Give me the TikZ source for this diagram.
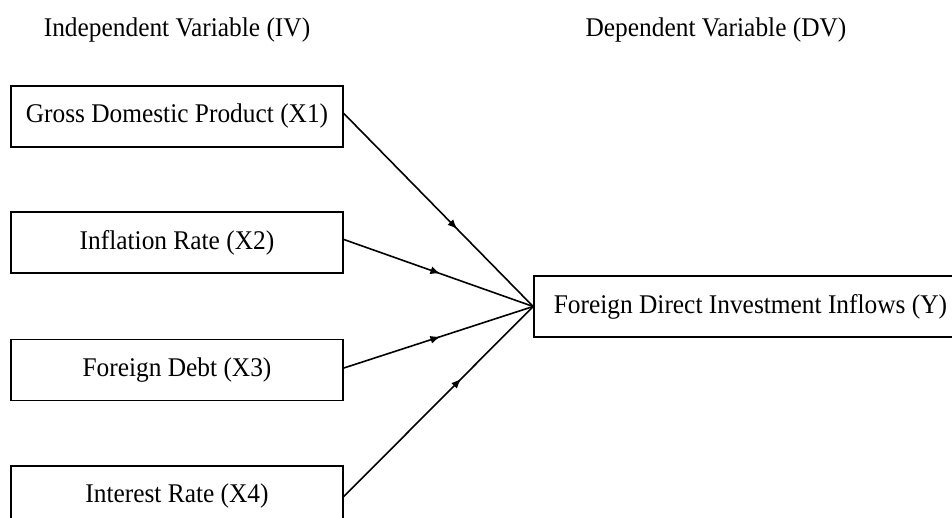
\documentclass[tikz,border=0pt]{standalone}
\usepackage{fontspec}
\setmainfont{Liberation Serif}[FakeStretch=0.94]
\usetikzlibrary{decorations.markings,arrows.meta}
\begin{document}
\begin{tikzpicture}[x=1pt,y=-1pt,
  every node/.style={font=\fontsize{27}{32}\selectfont},
  varbox/.style={draw, line width=1.7pt, minimum width=332pt, minimum height=61pt, inner sep=0pt},
  ybox/.style={draw, line width=1.7pt, minimum width=433pt, minimum height=61pt, inner sep=0pt},
  title/.style={inner sep=0pt},
  link/.style={line width=1.6pt, postaction={decorate},
    decoration={markings, mark=at position #1 with {\arrow{Latex[length=10pt,width=8pt]}}}}
]
\useasboundingbox (0,0) rectangle (952,518);
\node[title] (iv) at (177,30) {Independent Variable (IV)};
\node[title] (dv) at (716,30) {Dependent Variable (DV)};
\node[varbox] (x1) at (177,116.5) {Gross Domestic Product (X1)};
\node[varbox] (x2) at (177,242.5) {Inflation Rate (X2)};
\node[varbox] (x3) at (177,370) {Foreign Debt (X3)};
\node[varbox] (x4) at (177,496.5) {Interest Rate (X4)};
\node[ybox] (y) at (750.5,306.5) {Foreign Direct Investment Inflows (Y)};
\draw[link=0.6] ([yshift=3pt]x1.east) -- (y.west);
\draw[link=0.51] ([yshift=3pt]x2.east) -- (y.west);
\draw[link=0.51] ([yshift=2pt]x3.east) -- (y.west);
\draw[link=0.62] (x4.east) -- (y.west);
\end{tikzpicture}
\end{document}
